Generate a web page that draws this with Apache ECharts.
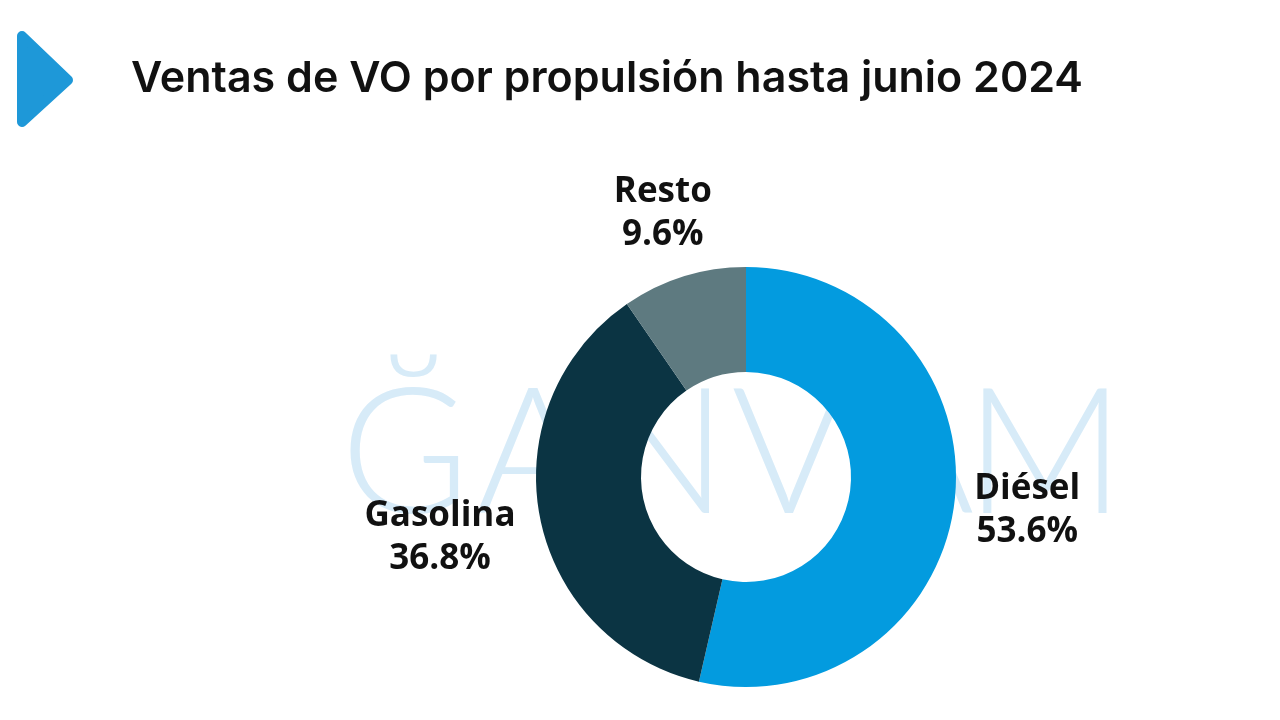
<!DOCTYPE html>
<html>
<head>
<meta charset="utf-8">
<script src="https://cdn.jsdelivr.net/npm/echarts@6/dist/echarts.min.js"></script>
<style>
html,body{margin:0;padding:0;background:#ffffff;}
#chart{width:1280px;height:720px;}
</style>
</head>
<body>
<div id="chart"></div>
<script>
const titleText = 'Ventas de VO por propulsión hasta junio 2024';
const categories = ['Diésel', 'Gasolina', 'Resto'];
const shares = [53.6, 36.8, 9.6];
const colors = ['#039BDF', '#0B3443', '#5E7A80'];
const watermarkLetters = ['Ğ', 'A', 'N', 'V', 'A', 'M'];

const CENTER = [746, 477];
const R_IN = 105, R_OUT = 210;
const LABEL_GAP = [20, 26, 21];
const LABEL_DY = [3, 8, -2];

const total = shares.reduce((a, b) => a + b, 0);
const cum = [];
shares.reduce((acc, v, i) => { cum[i] = acc; return acc + v; }, 0);

const chart = echarts.init(document.getElementById('chart'), null, {renderer: 'canvas'});

const wmGraphics = watermarkLetters.map((ch, i) => ({
  type: 'text',
  z: -10,
  silent: true,
  style: {
    text: ch,
    x: 405 + i * 128,
    y: 456,
    align: 'center',
    verticalAlign: 'middle',
    font: '300 176px Lato, "Open Sans", sans-serif',
    fill: '#D7EBF8'
  }
}));

const option = {
  backgroundColor: '#ffffff',
  animation: false,
  title: {
    text: titleText,
    left: 126,
    top: 53,
    textStyle: {
      fontFamily: 'Inter, "Open Sans", sans-serif',
      fontWeight: 600,
      fontSize: 43,
      color: '#111111'
    }
  },
  graphic: [
    {
      type: 'polygon',
      z: 10,
      shape: { points: [[22, 36], [68, 80], [22, 122]] },
      style: { fill: '#1E98D8', stroke: '#1E98D8', lineWidth: 10, lineJoin: 'round' }
    }
  ].concat(wmGraphics),
  series: [{
    type: 'pie',
    z: 5,
    center: [CENTER[0], CENTER[1]],
    radius: [R_IN, R_OUT],
    startAngle: 90,
    clockwise: true,
    avoidLabelOverlap: false,
    silent: true,
    data: categories.map((c, i) => ({ name: c, value: shares[i], itemStyle: { color: colors[i] } })),
    label: {
      show: true,
      position: 'outside',
      formatter: '{b}\n{c}%',
      fontFamily: '"Open Sans", sans-serif',
      fontWeight: 700,
      fontSize: 35,
      lineHeight: 43,
      color: '#111111',
      align: 'center'
    },
    labelLine: { show: false },
    labelLayout: function (p) {
      const i = p.dataIndex;
      const theta = 2 * Math.PI * (cum[i] + shares[i] / 2) / total;
      const s = Math.sin(theta), c = Math.cos(theta);
      const w = p.labelRect.width, h = p.labelRect.height;
      const r = R_OUT + LABEL_GAP[i];
      const px = CENTER[0] + r * s;
      const py = CENTER[1] - r * c;
      return {
        x: px + s * w / 2,
        y: py - c * h / 2 + LABEL_DY[i],
        align: 'center',
        verticalAlign: 'middle'
      };
    }
  }]
};
chart.setOption(option);
</script>
</body>
</html>
